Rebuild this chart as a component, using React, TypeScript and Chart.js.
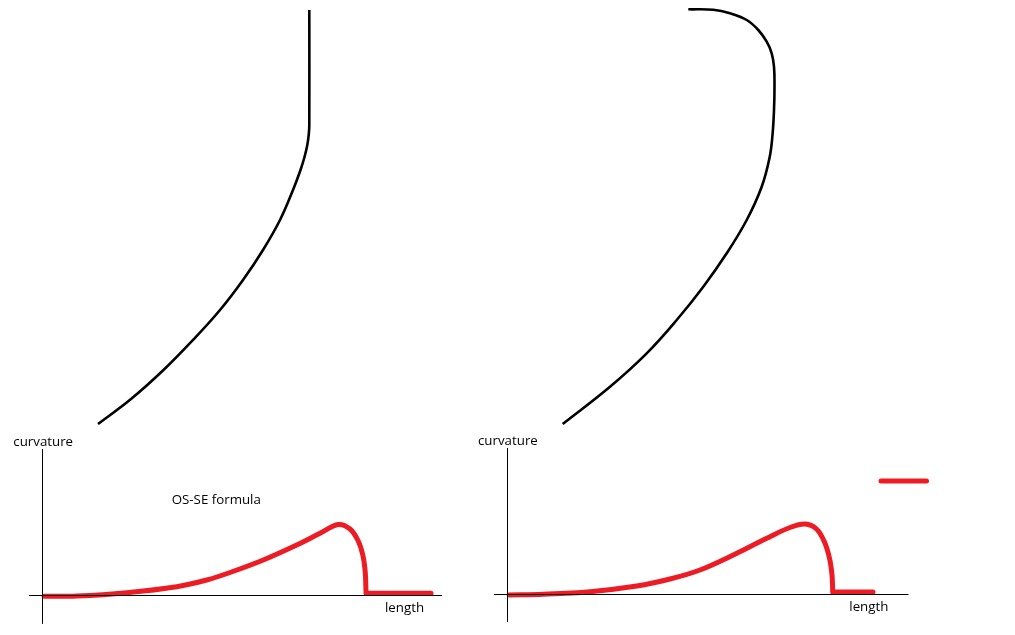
import React, { useEffect, useRef } from "react";
import { Chart, registerables } from "chart.js";

Chart.register(...registerables);

// Sketch coordinates (x to the right, y downward)
const leftTrack: [number, number][] = [
  [309.3, 10], [309.3, 125], [308.8, 134], [307.3, 145], [304.5, 157], [300.5, 170],
  [293, 190], [280, 220], [263, 250], [243, 280], [220, 310], [193, 340],
  [163.5, 370], [131, 399], [98, 424],
];
const rightTrack: [number, number][] = [
  [688.3, 9.3], [713.3, 9.8], [730, 13.3], [746.7, 20], [758.3, 30], [766.7, 41.7],
  [771.7, 53.3], [774, 66.7], [774.5, 86.7], [774, 110], [772.5, 135], [769.5, 158],
  [761.7, 186.7], [746.7, 220], [726.7, 253.3], [703.3, 286.7], [676.7, 320],
  [646.7, 353.3], [610, 386.7], [562.7, 424],
];
const leftCurvature: [number, number][] = [
  [44, 596.3], [76.7, 596], [126.7, 592.7], [176.7, 586.7], [206.7, 580], [230, 572.5],
  [263.3, 560], [296.7, 545], [320, 533.3], [338.3, 524.5], [350, 529], [358, 540.5],
  [362.8, 555], [365.2, 571.7], [366, 591.5],
];
const leftFlat: [number, number][] = [[366, 593.2], [431, 593.2]];
const rightCurvature: [number, number][] = [
  [509, 595], [543.3, 594.3], [590, 591.7], [636.7, 586], [670, 579], [700, 570],
  [733.3, 555], [766.7, 538.3], [790, 527.5], [805, 524], [816.5, 529], [824.5, 542],
  [829.5, 558.3], [832, 575], [832.7, 590.5],
];
const rightFlat: [number, number][] = [[832.7, 592], [873, 592]];
const legendStroke: [number, number][] = [[881, 481], [926.5, 481]];

const leftYAxis: [number, number][] = [[42.5, 449], [42.5, 623.5]];
const leftXAxis: [number, number][] = [[29, 595.5], [442, 595.5]];
const rightYAxis: [number, number][] = [[507.5, 448], [507.5, 622]];
const rightXAxis: [number, number][] = [[494, 594.5], [908.5, 594.5]];

const labelTexts = ["curvature", "OS-SE formula", "length", "curvature", "length"];
const labelX = [13.3, 171.7, 385, 478, 849.3];
const labelY = [446, 504, 611.5, 445, 611];

const RED = "#ED1C24";
const BLACK = "#000000";

const toPts = (arr: [number, number][]) => arr.map(([x, y]) => ({ x, y }));

const textPlugin = {
  id: "sketchText",
  afterDatasetsDraw(chart: any) {
    const { ctx, scales } = chart;
    ctx.save();
    ctx.font = '13.3px "Open Sans", sans-serif';
    ctx.fillStyle = "#000";
    ctx.textAlign = "left";
    ctx.textBaseline = "alphabetic";
    labelTexts.forEach((t, i) => {
      ctx.fillText(t, scales.x.getPixelForValue(labelX[i]), scales.y.getPixelForValue(labelY[i]));
    });
    ctx.restore();
  },
};

export default function App() {
  const canvasRef = useRef<HTMLCanvasElement | null>(null);

  useEffect(() => {
    document.body.style.margin = "0";
    document.body.style.overflow = "hidden";
    const canvas = canvasRef.current;
    if (!canvas) return;

    const line = (data: [number, number][], color: string, width: number, tension: number, round: boolean) => ({
      data: toPts(data),
      showLine: true,
      borderColor: color,
      backgroundColor: color,
      borderWidth: width,
      pointRadius: 0,
      pointHoverRadius: 0,
      tension,
      fill: false,
      borderCapStyle: round ? "round" : "butt",
      borderJoinStyle: "round",
    });

    const chart = new Chart(canvas, {
      type: "scatter",
      data: {
        datasets: [
          line(leftYAxis, BLACK, 1, 0, false),
          line(leftXAxis, BLACK, 1, 0, false),
          line(rightYAxis, BLACK, 1, 0, false),
          line(rightXAxis, BLACK, 1, 0, false),
          line(leftTrack, BLACK, 2.6, 0.4, false),
          line(rightTrack, BLACK, 2.6, 0.4, false),
          line(leftCurvature, RED, 5, 0.35, true),
          line(leftFlat, RED, 5, 0, true),
          line(rightCurvature, RED, 5, 0.35, true),
          line(rightFlat, RED, 5, 0, true),
          line(legendStroke, RED, 5, 0, true),
        ] as any,
      },
      options: {
        animation: false,
        responsive: false,
        devicePixelRatio: 1,
        layout: { padding: 0 },
        events: [],
        plugins: { legend: { display: false }, tooltip: { enabled: false } },
        scales: {
          x: { type: "linear", min: 0, max: 1015, display: false },
          y: { type: "linear", min: 0, max: 635, reverse: true, display: false },
        },
      },
      plugins: [textPlugin],
    });
    return () => chart.destroy();
  }, []);

  return (
    <div style={{ position: "fixed", left: 0, top: 0, width: 1015, height: 635, background: "#fff" }}>
      <canvas ref={canvasRef} width={1015} height={635} />
    </div>
  );
}
